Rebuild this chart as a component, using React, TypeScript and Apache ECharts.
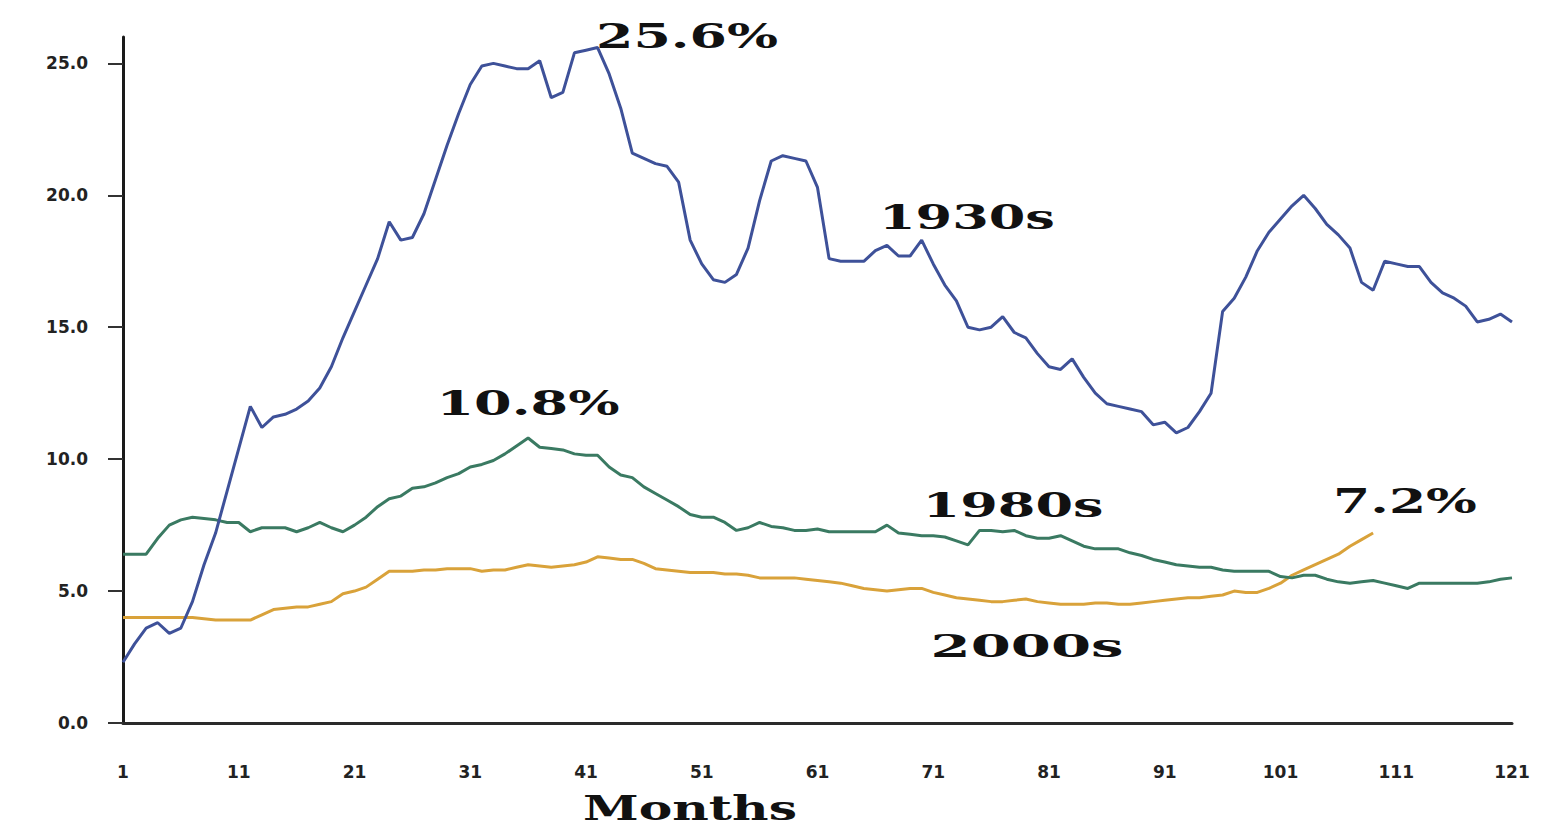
import React, { useEffect, useRef } from "react";
import * as echarts from "echarts";

const months: string[] = Array.from({ length: 121 }, (_, i) => String(i + 1));
const xTickLabels = ["1", "11", "21", "31", "41", "51", "61", "71", "81", "91", "101", "111", "121"];
const yTicks = [0, 5, 10, 15, 20, 25];

const s1930 = [
  2.3, 3.0, 3.6, 3.8, 3.4, 3.6, 4.6, 6.0, 7.2, 8.8,
  10.4, 12.0, 11.2, 11.6, 11.7, 11.9, 12.2, 12.7, 13.5, 14.6,
  15.6, 16.6, 17.6, 19.0, 18.3, 18.4, 19.3, 20.6, 21.9, 23.1,
  24.2, 24.9, 25.0, 24.9, 24.8, 24.8, 25.1, 23.7, 23.9, 25.4,
  25.5, 25.6, 24.6, 23.3, 21.6, 21.4, 21.2, 21.1, 20.5, 18.3,
  17.4, 16.8, 16.7, 17.0, 18.0, 19.8, 21.3, 21.5, 21.4, 21.3,
  20.3, 17.6, 17.5, 17.5, 17.5, 17.9, 18.1, 17.7, 17.7, 18.3,
  17.4, 16.6, 16.0, 15.0, 14.9, 15.0, 15.4, 14.8, 14.6, 14.0,
  13.5, 13.4, 13.8, 13.1, 12.5, 12.1, 12.0, 11.9, 11.8, 11.3,
  11.4, 11.0, 11.2, 11.8, 12.5, 15.6, 16.1, 16.9, 17.9, 18.6,
  19.1, 19.6, 20.0, 19.5, 18.9, 18.5, 18.0, 16.7, 16.4, 17.5,
  17.4, 17.3, 17.3, 16.7, 16.3, 16.1, 15.8, 15.2, 15.3, 15.5,
  15.2,
];

const s1980 = [
  6.4, 6.4, 6.4, 7.0, 7.5, 7.7, 7.8, 7.75, 7.7, 7.6,
  7.6, 7.25, 7.4, 7.4, 7.4, 7.25, 7.4, 7.6, 7.4, 7.25,
  7.5, 7.8, 8.2, 8.5, 8.6, 8.9, 8.95, 9.1, 9.3, 9.45,
  9.7, 9.8, 9.95, 10.2, 10.5, 10.8, 10.45, 10.4, 10.35, 10.2,
  10.15, 10.15, 9.7, 9.4, 9.3, 8.95, 8.7, 8.45, 8.2, 7.9,
  7.8, 7.8, 7.6, 7.3, 7.4, 7.6, 7.45, 7.4, 7.3, 7.3,
  7.35, 7.25, 7.25, 7.25, 7.25, 7.25, 7.5, 7.2, 7.15, 7.1,
  7.1, 7.05, 6.9, 6.75, 7.3, 7.3, 7.25, 7.3, 7.1, 7.0,
  7.0, 7.1, 6.9, 6.7, 6.6, 6.6, 6.6, 6.45, 6.35, 6.2,
  6.1, 6.0, 5.95, 5.9, 5.9, 5.8, 5.75, 5.75, 5.75, 5.75,
  5.55, 5.5, 5.6, 5.6, 5.45, 5.35, 5.3, 5.35, 5.4, 5.3,
  5.2, 5.1, 5.3, 5.3, 5.3, 5.3, 5.3, 5.3, 5.35, 5.45,
  5.5,
];

const s2000 = [
  4.0, 4.0, 4.0, 4.0, 4.0, 4.0, 4.0, 3.95, 3.9, 3.9,
  3.9, 3.9, 4.1, 4.3, 4.35, 4.4, 4.4, 4.5, 4.6, 4.9,
  5.0, 5.15, 5.45, 5.75, 5.75, 5.75, 5.8, 5.8, 5.85, 5.85,
  5.85, 5.75, 5.8, 5.8, 5.9, 6.0, 5.95, 5.9, 5.95, 6.0,
  6.1, 6.3, 6.25, 6.2, 6.2, 6.05, 5.85, 5.8, 5.75, 5.7,
  5.7, 5.7, 5.65, 5.65, 5.6, 5.5, 5.5, 5.5, 5.5, 5.45,
  5.4, 5.35, 5.3, 5.2, 5.1, 5.05, 5.0, 5.05, 5.1, 5.1,
  4.95, 4.85, 4.75, 4.7, 4.65, 4.6, 4.6, 4.65, 4.7, 4.6,
  4.55, 4.5, 4.5, 4.5, 4.55, 4.55, 4.5, 4.5, 4.55, 4.6,
  4.65, 4.7, 4.75, 4.75, 4.8, 4.85, 5.0, 4.95, 4.95, 5.1,
  5.3, 5.6, 5.8, 6.0, 6.2, 6.4, 6.7, 6.95, 7.2,
];

const annotationTexts = ["25.6%", "1930s", "10.8%", "1980s", "7.2%", "2000s", "Months"];

// layout for the annotation texts: [centerX, centerY, targetWidth, fontSize]
const annotationLayout: number[][] = [
  [687, 36, 182, 34],
  [967, 217, 176, 34],
  [528, 403, 183, 34],
  [1013, 505, 181, 34],
  [1405, 501, 144, 34],
  [1027, 646, 193, 32],
  [690, 808, 214, 33],
];

const SERIF = "'DejaVu Serif', 'Liberation Serif', serif";
const SANS = "'DejaVu Sans', Verdana, sans-serif";

function measure(text: string, size: number): number {
  const ctx = document.createElement("canvas").getContext("2d");
  if (!ctx) return text.length * size * 0.6;
  ctx.font = `bold ${size}px ${SERIF}`;
  return ctx.measureText(text).width;
}

export default function App() {
  const ref = useRef<HTMLDivElement>(null);

  useEffect(() => {
    document.body.style.margin = "0";
    if (!ref.current) return;
    const chart = echarts.init(ref.current, undefined, { renderer: "svg" });

    const graphics = annotationTexts.map((t, i) => {
      const [cx, cy, w, fs] = annotationLayout[i];
      const mw = measure(t, fs);
      return {
        type: "text",
        x: cx,
        y: cy,
        scaleX: w / mw,
        style: {
          text: t,
          fontSize: fs,
          fontWeight: "bold",
          fontFamily: SERIF,
          fill: "#111",
          align: "center",
          verticalAlign: "middle",
        },
        z: 100,
      };
    });

    const lineCommon = {
      type: "line",
      showSymbol: false,
      symbol: "none",
      smooth: false,
    };

    chart.setOption({
      animation: false,
      backgroundColor: "#ffffff",
      grid: { left: 123, right: 44, top: 37, bottom: 109, containLabel: false },
      xAxis: {
        type: "category",
        data: months,
        boundaryGap: false,
        axisLine: { show: true, lineStyle: { color: "#2a2a2a", width: 3 } },
        axisTick: { show: false },
        axisLabel: {
          interval: (index: number, value: string) => xTickLabels.includes(value),
          margin: 40,
          fontFamily: SANS,
          fontWeight: "bold",
          fontSize: 17,
          color: "#222",
        },
        splitLine: { show: false },
      },
      yAxis: {
        type: "value",
        min: 0,
        max: 26,
        axisLine: { show: true, lineStyle: { color: "#1a1a1a", width: 3 } },
        axisTick: {
          show: true,
          length: 15,
          customValues: yTicks,
          lineStyle: { color: "#333", width: 2 },
        },
        axisLabel: {
          customValues: yTicks,
          margin: 35,
          formatter: (v: number) => v.toFixed(1),
          fontFamily: SANS,
          fontWeight: "bold",
          fontSize: 17,
          color: "#222",
        },
        splitLine: { show: false },
      },
      series: [
        { ...lineCommon, name: "2000s", data: s2000, lineStyle: { color: "#D9A23A", width: 3 }, z: 2 },
        { ...lineCommon, name: "1980s", data: s1980, lineStyle: { color: "#3A7A62", width: 3 }, z: 3 },
        { ...lineCommon, name: "1930s", data: s1930, lineStyle: { color: "#3E5199", width: 3 }, z: 4 },
      ],
      graphic: graphics,
    });

    return () => chart.dispose();
  }, []);

  return <div ref={ref} style={{ width: 1556, height: 832 }} />;
}
